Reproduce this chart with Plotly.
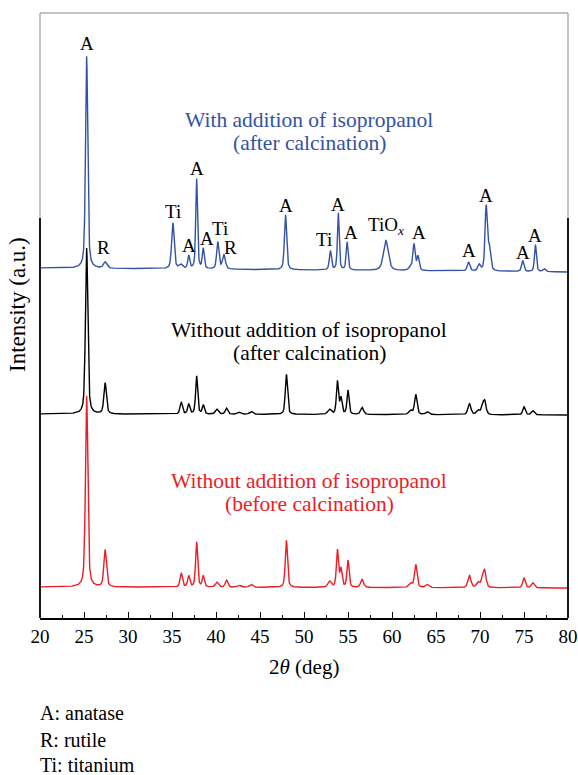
import numpy as np
import plotly.graph_objects as go

# ---------------- data ----------------
# 2-theta sampling grid (deg)
two_theta = np.round(np.arange(20.0, 80.0001, 0.02), 3)

# Reflection tables: centre (deg), height (a.u.), FWHM (deg)
# With addition of isopropanol (after calcination)
blue_pos = [25.3, 27.4, 35.1, 36.0, 36.9, 37.8, 38.55, 40.2, 40.9, 47.9,
            53.0, 53.9, 54.9, 59.3, 62.1, 62.5, 62.95, 68.7, 69.9, 70.7,
            71.05, 74.85, 76.3, 77.3]
blue_height = [212, 6, 46, 4, 13, 90, 20, 27, 14, 55,
               19, 57, 28, 30, 3, 26, 14, 9, 6, 64,
               22, 11, 27, 3]
blue_fwhm = [0.3, 0.45, 0.34, 0.45, 0.26, 0.24, 0.26, 0.3, 0.4, 0.3,
             0.28, 0.24, 0.26, 0.65, 0.45, 0.3, 0.3, 0.34, 0.34, 0.3,
             0.34, 0.3, 0.26, 0.34]
blue_baseline = [350, 346]

# Without addition of isopropanol (after calcination)
black_pos = [25.3, 27.4, 36.05, 36.9, 37.8, 38.55, 40.1, 41.2, 42.6, 44.0,
             48.0, 52.9, 53.8, 54.2, 55.0, 56.6, 62.1, 62.7, 64.0, 68.8,
             69.8, 70.3, 70.55, 75.0, 76.0]
black_height = [166, 31, 12, 10, 38, 9, 5, 6, 2, 3,
                40, 5, 33, 16, 24, 7, 4, 20, 3, 11,
                4, 9, 12, 8, 4]
black_fwhm = [0.32, 0.34, 0.32, 0.3, 0.28, 0.28, 0.4, 0.34, 0.45, 0.45,
              0.3, 0.45, 0.28, 0.28, 0.28, 0.4, 0.45, 0.34, 0.45, 0.4,
              0.45, 0.34, 0.34, 0.34, 0.4]
black_baseline = [204, 203]

# Without addition of isopropanol (before calcination)
red_pos = black_pos
red_height = [191, 37, 14, 11, 45, 11, 5, 7, 2, 3,
              47, 6, 37, 18, 27, 8, 4, 23, 3, 12,
              5, 10, 15, 10, 5]
red_fwhm = black_fwhm
red_baseline = [31, 30]

# Phase labels on the top pattern: text and the reflection they mark (deg)
label_text = ["A", "R", "Ti", "A", "A", "A", "Ti", "R", "A", "Ti", "A", "A",
              "TiO<sub><i>x</i></sub>", "A", "A", "A", "A", "A"]
label_peak = [25.3, 27.4, 35.1, 36.9, 37.8, 38.55, 40.2, 40.9, 47.9, 53.0,
              53.9, 54.9, 59.3, 62.5, 68.7, 70.7, 74.85, 76.3]

series_names = [["With addition of isopropanol", "(after calcination)"],
                ["Without addition of isopropanol", "(after calcination)"],
                ["Without addition of isopropanol", "(before calcination)"]]

legend_lines = ["A: anatase", "R: rutile", "Ti: titanium"]

x_ticks = list(range(20, 81, 5))

# ---------------- styling ----------------
BLUE = "#3452a4"
BLACK = "#000000"
RED = "#ed1c24"
SERIF = "Liberation Serif, Times New Roman, serif"
W, H = 578, 775
L, R, T, B = 40, 10, 13, 157
plot_h = H - T - B


def profile(pos, height, fwhm, baseline, eta=0.5):
    x = two_theta
    y = baseline[0] + (baseline[1] - baseline[0]) * (x - x[0]) / (x[-1] - x[0])
    for p, h, w in zip(pos, height, fwhm):
        u = (x - p) / (w / 2.0)
        y = y + h * (eta / (1.0 + u ** 2) + (1 - eta) * np.exp(-np.log(2) * u ** 2))
    return y


y_blue = profile(blue_pos, blue_height, blue_fwhm, blue_baseline)
y_black = profile(black_pos, black_height, black_fwhm, black_baseline)
y_red = profile(red_pos, red_height, red_fwhm, red_baseline)

fig = go.Figure()
for y, c in [(y_blue, BLUE), (y_black, BLACK), (y_red, RED)]:
    fig.add_trace(go.Scatter(x=two_theta, y=y, mode="lines",
                             line=dict(color=c, width=1.4), hoverinfo="skip",
                             showlegend=False))

annotations = []

# phase labels over the reflections of the top pattern
label_dx = [0, -2, 0, 0, 0, 4, 2, 7, 0, -6, 0, 4, 0, 5, 0, 0, 0, 0]
label_dy = [13, 14, 11, 9, 10, 9, 13, 7, 9, 11, 8, 9, 15, 11, 11, 9, 8, 9]
for txt, pk, dx, dy in zip(label_text, label_peak, label_dx, label_dy):
    win = np.abs(two_theta - pk) <= 0.12
    top = float(y_blue[win].max())
    annotations.append(dict(x=pk, y=top, xref="x", yref="y", text=txt,
                            showarrow=False, xanchor="center", yanchor="middle",
                            xshift=dx, yshift=dy,
                            font=dict(family=SERIF, size=19, color=BLACK)))


def paper_y(px):
    return (H - B - px) / plot_h


# sample names
name_rows = [(120, 143, BLUE), (330, 353, BLACK), (481, 504, RED)]
for (l1, l2), (p1, p2, c) in zip(series_names, name_rows):
    for txt, py in [(l1, p1), (l2, p2)]:
        annotations.append(dict(x=(309 - L) / (W - L - R), y=paper_y(py),
                                xref="paper", yref="paper", text=txt,
                                showarrow=False, xanchor="center", yanchor="middle",
                                font=dict(family=SERIF, size=21.5, color=c)))

# axis titles
annotations.append(dict(x=(304 - L) / (W - L - R), y=paper_y(667), xref="paper",
                        yref="paper", text="2<i>θ</i> (deg)", showarrow=False,
                        xanchor="center", yanchor="middle",
                        font=dict(family=SERIF, size=21, color=BLACK)))
annotations.append(dict(x=(17 - L) / (W - L - R), y=paper_y(305), xref="paper",
                        yref="paper", text="Intensity (a.u.)", showarrow=False,
                        textangle=-90, xanchor="center", yanchor="middle",
                        font=dict(family=SERIF, size=23, color=BLACK)))

# phase key under the chart
for txt, py in zip(legend_lines, [713, 740, 765]):
    annotations.append(dict(x=0, y=paper_y(py), xref="paper", yref="paper",
                            text=txt, showarrow=False, xanchor="left",
                            yanchor="middle", xshift=-2,
                            font=dict(family=SERIF, size=20, color=BLACK)))

# frame: thin grey upper part, heavy black lower part
split = paper_y(218)
shapes = [
    dict(type="line", xref="paper", yref="paper", x0=0, x1=1, y0=1, y1=1,
         line=dict(color="#8a8a8a", width=1)),
    dict(type="line", xref="paper", yref="paper", x0=0, x1=0, y0=split, y1=1,
         line=dict(color="#8a8a8a", width=1)),
    dict(type="line", xref="paper", yref="paper", x0=1, x1=1, y0=split, y1=1,
         line=dict(color="#8a8a8a", width=1)),
    dict(type="line", xref="paper", yref="paper", x0=0, x1=0, y0=0, y1=split,
         line=dict(color=BLACK, width=1.8)),
    dict(type="line", xref="paper", yref="paper", x0=1, x1=1, y0=0, y1=split,
         line=dict(color=BLACK, width=1.8)),
]

fig.update_layout(
    width=W, height=H, autosize=False,
    margin=dict(l=L, r=R, t=T, b=B, pad=0, autoexpand=False),
    paper_bgcolor="white", plot_bgcolor="white",
    annotations=annotations, shapes=shapes,
    xaxis=dict(range=[20, 80], tickmode="array", tickvals=x_ticks,
               ticktext=[str(v) for v in x_ticks], automargin=False,
               ticks="inside", ticklen=6, tickwidth=1.3, tickcolor=BLACK,
               minor=dict(dtick=2.5, tick0=20, ticks="inside", ticklen=3.5,
                          tickwidth=1.2, tickcolor=BLACK),
               showline=True, linecolor=BLACK, linewidth=1.8, mirror=False,
               showgrid=False, zeroline=False,
               tickfont=dict(family=SERIF, size=19, color=BLACK)),
    yaxis=dict(range=[0, plot_h], showticklabels=False, ticks="",
               automargin=False,
               showgrid=False, zeroline=False, showline=False),
)

fig.write_html("out.html", config={"responsive": False},
               post_script="document.body.style.margin='0';"
                           "document.documentElement.style.overflow='hidden';")
